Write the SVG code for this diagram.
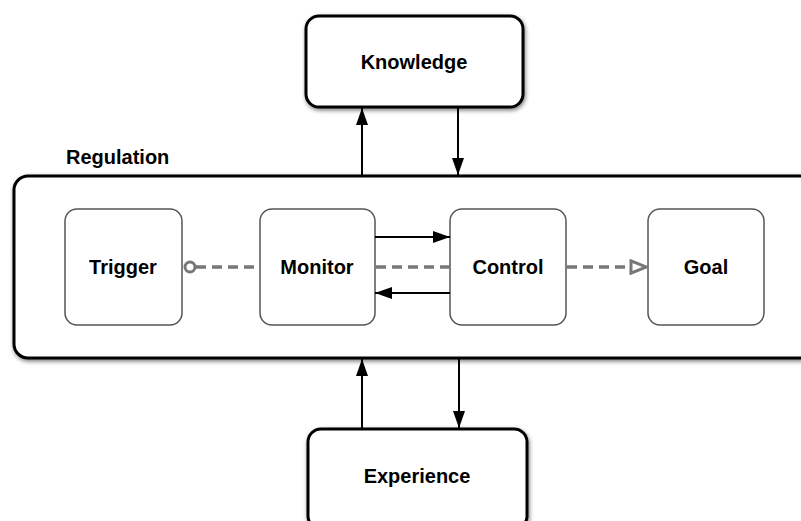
<svg xmlns="http://www.w3.org/2000/svg" width="801" height="521" viewBox="0 0 801 521">
<defs>
<filter id="sh" x="-10%" y="-10%" width="130%" height="130%">
<feGaussianBlur in="SourceAlpha" stdDeviation="2"/>
<feOffset dx="1" dy="2" result="b"/>
<feComponentTransfer><feFuncA type="linear" slope="0.5"/></feComponentTransfer>
<feMerge><feMergeNode/><feMergeNode in="SourceGraphic"/></feMerge>
</filter>
<marker id="ahb" viewBox="0 0 17 12" refX="17" refY="6" markerWidth="17" markerHeight="12" markerUnits="userSpaceOnUse" orient="auto">
<path d="M0,0 L17,6 L0,12 z" fill="#000"/>
</marker>
<marker id="oh" viewBox="0 0 20 16" refX="18" refY="8" markerWidth="20" markerHeight="16" markerUnits="userSpaceOnUse" orient="auto">
<path d="M2,1.8 L17.5,8 L2,14.2 z" fill="#fff" stroke="#777" stroke-width="3"/>
</marker>
</defs>
<style>
.big{fill:#fff;stroke:#000;stroke-width:3}
.small{fill:#fff;stroke:#555;stroke-width:1.5}
.t{font-family:"Liberation Sans",Arial,sans-serif;font-weight:bold;font-size:20px;fill:#000;text-anchor:middle}
.solid{stroke:#000;stroke-width:2;fill:none}
.dash{stroke:#777;stroke-width:3.5;stroke-dasharray:10,6;fill:none}
</style>
<rect width="801" height="521" fill="#fff"/>
<g id="regulation">
<rect class="big" x="14" y="176" width="800" height="182" rx="14" filter="url(#sh)"/>
<text class="t" x="66" y="164" style="text-anchor:start">Regulation</text>
</g>
<g id="knowledge">
<rect class="big" x="306" y="16" width="217" height="91" rx="13" filter="url(#sh)"/>
<text class="t" x="414" y="69">Knowledge</text>
</g>
<g id="experience">
<rect class="big" x="308" y="429" width="219" height="100" rx="13" filter="url(#sh)"/>
<text class="t" x="417" y="483">Experience</text>
</g>
<g id="trigger">
<rect class="small" x="65" y="209" width="117" height="116" rx="12"/>
<text class="t" x="123" y="274">Trigger</text>
</g>
<g id="monitor">
<rect class="small" x="260" y="209" width="115" height="116" rx="12"/>
<text class="t" x="317" y="274">Monitor</text>
</g>
<g id="control">
<rect class="small" x="450" y="209" width="116" height="116" rx="12"/>
<text class="t" x="508" y="274">Control</text>
</g>
<g id="goal">
<rect class="small" x="648" y="209" width="116" height="116" rx="12"/>
<text class="t" x="706" y="274">Goal</text>
</g>
<g id="connectors">
<line class="solid" x1="362" y1="176" x2="362" y2="108" marker-end="url(#ahb)"/>
<line class="solid" x1="458" y1="107" x2="458" y2="175" marker-end="url(#ahb)"/>
<line class="solid" x1="362" y1="429" x2="362" y2="359" marker-end="url(#ahb)"/>
<line class="solid" x1="459" y1="359" x2="459" y2="428" marker-end="url(#ahb)"/>
<line class="solid" x1="375" y1="237" x2="450" y2="237" marker-end="url(#ahb)"/>
<line class="solid" x1="450" y1="293" x2="375" y2="293" marker-end="url(#ahb)"/>
<circle cx="190" cy="267" r="5" fill="#fff" stroke="#777" stroke-width="3"/>
<line class="dash" x1="196" y1="267" x2="260" y2="267"/>
<line class="dash" x1="376" y1="267" x2="450" y2="267"/>
<line class="dash" x1="567" y1="267" x2="647" y2="267" marker-end="url(#oh)"/>
</g>
</svg>
